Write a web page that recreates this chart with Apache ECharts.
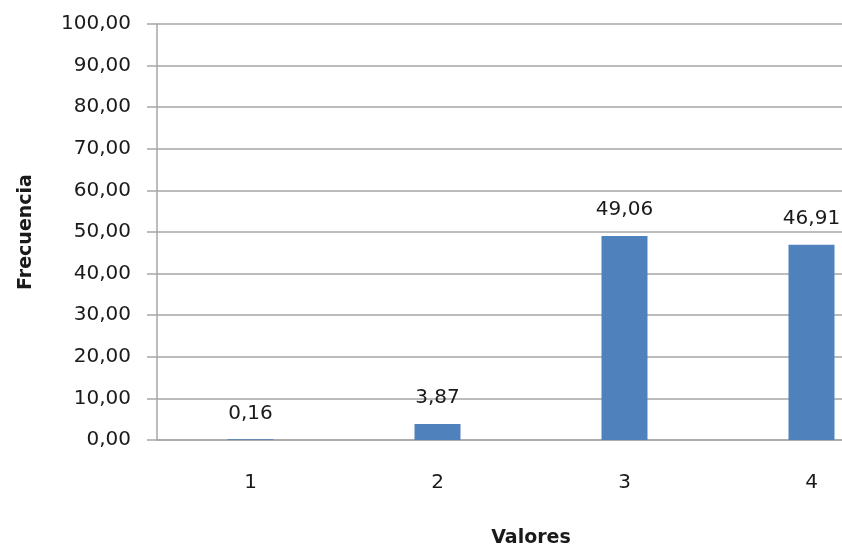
<!DOCTYPE html>
<html>
<head>
<meta charset="utf-8">
<script src="https://cdn.jsdelivr.net/npm/echarts@6/dist/echarts.min.js"></script>
<style>
  html, body { margin: 0; padding: 0; background: #ffffff; }
  #chart { width: 842px; height: 546px; }
</style>
</head>
<body>
<div id="chart"></div>
<script>
// Category labels along the x axis
const categories = ['1', '2', '3', '4'];
// Frequency (%) for each value
const frecuencia = [0.16, 3.87, 49.06, 46.91];
// Y axis range
const yMin = 0;
const yMax = 100;
const yStep = 10;

const fmt = v => v.toFixed(2).replace('.', ',');
const FONT = 'DejaVu Sans';
const TEXT = '#1a1a1a';
const GRID = '#a6a6a6';

const chart = echarts.init(document.getElementById('chart'), null, { renderer: 'canvas' });
chart.setOption({
  animation: false,
  backgroundColor: '#ffffff',
  // plot area runs past the right edge of the canvas
  grid: {
    left: 157, top: 24, width: 748, height: 416,
    containLabel: false,
    outerBoundsMode: 'none'
  },
  xAxis: {
    type: 'category',
    data: categories,
    name: 'Valores',
    nameLocation: 'middle',
    nameGap: 89,
    nameTextStyle: { fontFamily: FONT, fontSize: 19, fontWeight: 'bold', color: TEXT },
    axisLine: { show: true, lineStyle: { color: GRID, width: 1.5 } },
    axisTick: { show: false },
    axisLabel: { fontFamily: FONT, fontSize: 20, color: TEXT, margin: 33 },
    splitLine: { show: false }
  },
  yAxis: {
    type: 'value',
    min: yMin,
    max: yMax,
    interval: yStep,
    name: 'Frecuencia',
    nameLocation: 'middle',
    nameGap: 121,
    nameRotate: 90,
    nameTextStyle: { fontFamily: FONT, fontSize: 19, fontWeight: 'bold', color: TEXT },
    axisLine: { show: true, lineStyle: { color: GRID, width: 1.5 } },
    axisTick: { show: true, inside: false, length: 10, lineStyle: { color: GRID, width: 1.5 } },
    axisLabel: { fontFamily: FONT, fontSize: 20, color: TEXT, margin: 26, formatter: fmt },
    splitLine: { show: true, lineStyle: { color: GRID, width: 1.5 } }
  },
  series: [{
    type: 'bar',
    data: frecuencia,
    barWidth: 46,
    itemStyle: { color: '#4f81bd' },
    label: {
      show: true,
      position: 'top',
      distance: 16,
      fontFamily: FONT,
      fontSize: 20,
      color: TEXT,
      formatter: p => fmt(p.value)
    }
  }]
});
</script>
</body>
</html>
